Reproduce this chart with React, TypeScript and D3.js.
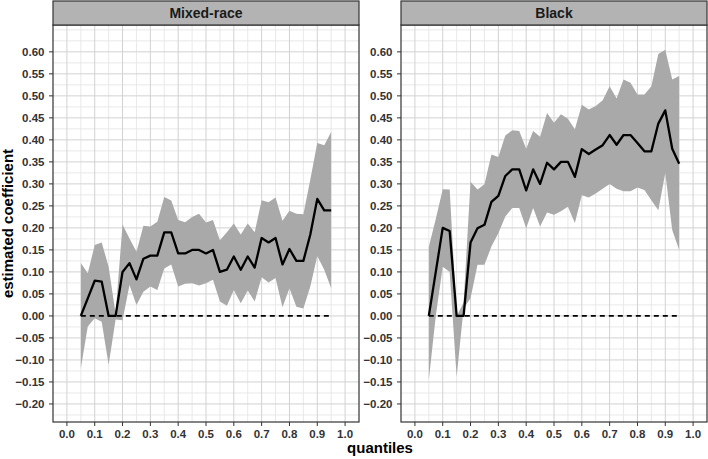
import React from "react";
import * as d3 from "d3";

const quantiles = [
  0.05, 0.075, 0.1, 0.125, 0.15, 0.175, 0.2, 0.225, 0.25, 0.275, 0.3, 0.325,
  0.35, 0.375, 0.4, 0.425, 0.45, 0.475, 0.5, 0.525, 0.55, 0.575, 0.6, 0.625,
  0.65, 0.675, 0.7, 0.725, 0.75, 0.775, 0.8, 0.825, 0.85, 0.875, 0.9, 0.925, 0.95,
];

const mixedEst = [
  0, 0.04, 0.08, 0.078, 0, 0, 0.1, 0.12, 0.083, 0.13, 0.137, 0.137, 0.19,
  0.19, 0.142, 0.142, 0.15, 0.15, 0.142, 0.15, 0.1, 0.105, 0.135, 0.105, 0.135,
  0.11, 0.177, 0.167, 0.177, 0.117, 0.152, 0.125, 0.125, 0.185, 0.266, 0.24, 0.24,
];
const mixedHi = [
  0.12, 0.097, 0.161, 0.167, 0.112, 0.005, 0.208, 0.176, 0.146, 0.205, 0.203,
  0.214, 0.27, 0.262, 0.218, 0.213, 0.225, 0.232, 0.212, 0.218, 0.172, 0.19,
  0.21, 0.185, 0.21, 0.19, 0.263, 0.258, 0.269, 0.216, 0.239, 0.232, 0.231,
  0.31, 0.393, 0.388, 0.418,
];
const mixedLo = [
  -0.119, -0.024, -0.005, -0.013, -0.111, -0.008, -0.01, 0.07, 0.025, 0.055,
  0.067, 0.059, 0.108, 0.117, 0.067, 0.073, 0.074, 0.069, 0.074, 0.082, 0.033,
  0.023, 0.059, 0.029, 0.058, 0.033, 0.088, 0.076, 0.086, 0.02, 0.063, 0.021,
  0.017, 0.067, 0.136, 0.105, 0.063,
];

const blackEst = [
  0, 0.1, 0.2, 0.193, 0, 0, 0.167, 0.199, 0.207, 0.259, 0.273, 0.318, 0.333,
  0.333, 0.285, 0.333, 0.3, 0.348, 0.333, 0.35, 0.35, 0.316, 0.379, 0.368,
  0.378, 0.388, 0.411, 0.389, 0.411, 0.411, 0.393, 0.374, 0.374, 0.437, 0.467,
  0.38, 0.346,
];
const blackHi = [
  0.157, 0.22, 0.288, 0.287, 0.0, 0.03, 0.305, 0.287, 0.299, 0.367, 0.361,
  0.41, 0.422, 0.42, 0.38, 0.42, 0.407, 0.461, 0.439, 0.458, 0.448, 0.424,
  0.48, 0.469, 0.477, 0.49, 0.522, 0.494, 0.537, 0.53, 0.503, 0.503, 0.522,
  0.595, 0.605, 0.537, 0.545,
];
const blackLo = [
  -0.145, 0.0, 0.112, 0.1, -0.138, 0.017, 0.04, 0.116, 0.116, 0.158, 0.188,
  0.226, 0.245, 0.245, 0.199, 0.245, 0.203, 0.235, 0.23, 0.238, 0.248, 0.211,
  0.274, 0.269, 0.278, 0.289, 0.3, 0.289, 0.283, 0.283, 0.292, 0.286, 0.263,
  0.24, 0.325, 0.195, 0.15,
];

const panelNames = ["Mixed-race", "Black"];
const xTicks = [0, 0.1, 0.2, 0.3, 0.4, 0.5, 0.6, 0.7, 0.8, 0.9, 1.0];
const xMinor = [0.05, 0.15, 0.25, 0.35, 0.45, 0.55, 0.65, 0.75, 0.85, 0.95];
const yTicks = [
  -0.2, -0.15, -0.1, -0.05, 0, 0.05, 0.1, 0.15, 0.2, 0.25, 0.3, 0.35, 0.4,
  0.45, 0.5, 0.55, 0.6,
];
const yMinor = [
  -0.225, -0.175, -0.125, -0.075, -0.025, 0.025, 0.075, 0.125, 0.175, 0.225,
  0.275, 0.325, 0.375, 0.425, 0.475, 0.525, 0.575, 0.625, 0.65,
];
const refLine = [0.05, 0.95];

type Row = { q: number; est: number; lo: number; hi: number };

export default function App() {
  const W = 708;
  const H = 459;
  const top = 25;
  const bottom = 422;
  const stripTop = 1;
  const panels = [
    { name: panelNames[0], est: mixedEst, lo: mixedLo, hi: mixedHi, x0: 53, x1: 359 },
    { name: panelNames[1], est: blackEst, lo: blackLo, hi: blackHi, x0: 401, x1: 707 },
  ];
  const y = d3.scaleLinear().domain([-0.241, 0.661]).range([bottom, top]);
  const font = "'Liberation Sans', Arial, Helvetica, sans-serif";
  const fmtY = d3.format(".2f");
  const fmtX = d3.format(".1f");

  return (
    <svg
      width={W}
      height={H}
      style={{ position: "absolute", left: 0, top: 0, display: "block", background: "#fff" }}
      fontFamily={font}
    >
      <rect x={0} y={0} width={W} height={H} fill="#fff" />
      {panels.map((p, pi) => {
        const x = d3.scaleLinear().domain([-0.05, 1.05]).range([p.x0, p.x1]);
        const rows: Row[] = quantiles.map((q, i) => ({ q, est: p.est[i], lo: p.lo[i], hi: p.hi[i] }));
        const area = d3
          .area<Row>()
          .x((d) => x(d.q))
          .y0((d) => y(d.lo))
          .y1((d) => y(d.hi));
        const line = d3
          .line<Row>()
          .x((d) => x(d.q))
          .y((d) => y(d.est));
        return (
          <g key={pi}>
            {/* grid */}
            {yMinor.map((v) => (
              <line key={"ym" + v} x1={p.x0} x2={p.x1} y1={y(v)} y2={y(v)} stroke="#e6e6e6" strokeWidth={0.9} />
            ))}
            {xMinor.map((v) => (
              <line key={"xm" + v} x1={x(v)} x2={x(v)} y1={top} y2={bottom} stroke="#e6e6e6" strokeWidth={0.9} />
            ))}
            {yTicks.map((v) => (
              <line key={"yg" + v} x1={p.x0} x2={p.x1} y1={y(v)} y2={y(v)} stroke="#d2d2d2" strokeWidth={1} />
            ))}
            {xTicks.map((v) => (
              <line key={"xg" + v} x1={x(v)} x2={x(v)} y1={top} y2={bottom} stroke="#d2d2d2" strokeWidth={1} />
            ))}
            {/* ribbon */}
            <path d={area(rows) || ""} fill="#a9a9a9" />
            {/* reference line */}
            <line
              x1={x(refLine[0])}
              x2={x(refLine[1])}
              y1={y(0)}
              y2={y(0)}
              stroke="#000"
              strokeWidth={1.8}
              strokeDasharray="5,4"
            />
            {/* estimate */}
            <path d={line(rows) || ""} fill="none" stroke="#000" strokeWidth={2.3} strokeLinejoin="round" />
            {/* panel border */}
            <rect x={p.x0} y={top} width={p.x1 - p.x0} height={bottom - top} fill="none" stroke="#333" strokeWidth={1.2} />
            {/* strip */}
            <rect x={p.x0} y={stripTop} width={p.x1 - p.x0} height={top - stripTop} fill="#b3b3b3" stroke="#333" strokeWidth={1.2} />
            <text x={(p.x0 + p.x1) / 2} y={18} textAnchor="middle" fontSize={14} fontWeight="bold" fill="#1a1a1a">
              {p.name}
            </text>
            {/* y axis */}
            {yTicks.map((v) => (
              <g key={"yt" + v}>
                <line x1={p.x0 - 4} x2={p.x0} y1={y(v)} y2={y(v)} stroke="#333" strokeWidth={1} />
                <text x={p.x0 - 8.5} y={y(v)} dy="0.36em" textAnchor="end" fontSize={11.5} fontWeight="bold" fill="#333">
                  {fmtY(v)}
                </text>
              </g>
            ))}
            {/* x axis */}
            {xTicks.map((v) => (
              <g key={"xt" + v}>
                <line x1={x(v)} x2={x(v)} y1={bottom} y2={bottom + 4} stroke="#333" strokeWidth={1} />
                <text x={x(v)} y={438} textAnchor="middle" fontSize={11.5} fontWeight="bold" fill="#333">
                  {fmtX(v)}
                </text>
              </g>
            ))}
          </g>
        );
      })}
      <text
        transform={`translate(12.5, ${(top + bottom) / 2}) rotate(-90)`}
        textAnchor="middle"
        fontSize={15}
        fontWeight="bold"
        fill="#000"
      >
        estimated coefficient
      </text>
      <text x={380} y={453} textAnchor="middle" fontSize={15} fontWeight="bold" fill="#000">
        quantiles
      </text>
    </svg>
  );
}
